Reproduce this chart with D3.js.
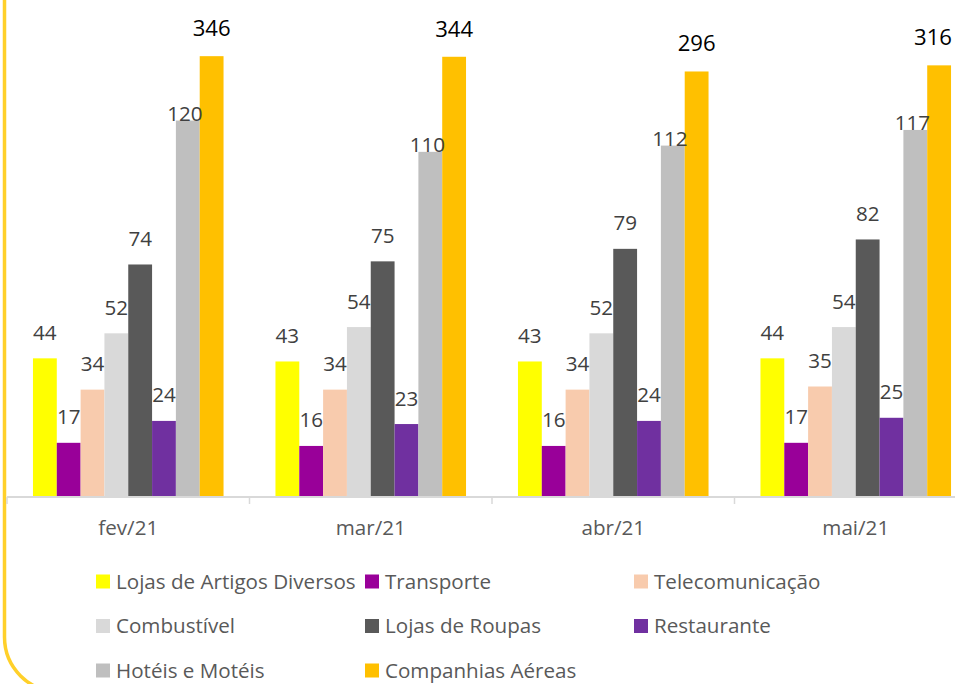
<!DOCTYPE html>
<html>
<head>
<meta charset="utf-8">
<script src="https://cdn.jsdelivr.net/npm/d3@7"></script>
<style>
  body { margin: 0; background: #fff; }
  #chart text { font-family: "Open Sans", "Noto Sans", sans-serif; }
</style>
</head>
<body>
<div id="chart"></div>
<script>
// categories (months) and series
var months = ['fev/21', 'mar/21', 'abr/21', 'mai/21'];
var series = ['Lojas de Artigos Diversos', 'Transporte', 'Telecomunicação',
  'Combustível', 'Lojas de Roupas', 'Restaurante', 'Hotéis e Motéis', 'Companhias Aéreas'];
var colors = ['#FFFF00', '#990099', '#F8CBAD', '#D9D9D9', '#595959', '#7030A0', '#BFBFBF', '#FFC000'];

var lojasDiversos = [44, 43, 43, 44];
var transporte = [17, 16, 16, 17];
var telecom = [34, 34, 34, 35];
var combustivel = [52, 54, 52, 54];
var lojasRoupas = [74, 75, 79, 82];
var restaurante = [24, 23, 24, 25];
var hoteis = [120, 110, 112, 117];
var aereas = [346, 344, 296, 316];   // plotted on the secondary axis

var yTicks = [0, 140];            // primary axis range (hidden)
var y2Domain = [-1090, 340];      // secondary axis range (hidden)

var values = [lojasDiversos, transporte, telecom, combustivel, lojasRoupas, restaurante, hoteis, aereas];

var W = 955, H = 684;
var fs = 20.6;   // base font size

var svg = d3.select('#chart').append('svg')
    .attr('width', W)
    .attr('height', H);

// yellow frame, only the left side and bottom corner are visible
svg.append('rect')
    .attr('x', 4.5).attr('y', -100)
    .attr('width', 2000).attr('height', 792)
    .attr('rx', 55).attr('ry', 55)
    .style('fill', 'none')
    .style('stroke', '#FFD02A')
    .style('stroke-width', 3.5);

var x0 = d3.scaleBand().domain(months).range([7, 977]);
var x1 = d3.scaleBand().domain(series).range([0, x0.bandwidth()])
    .paddingInner(0).paddingOuter(1.09);

var y = d3.scaleLinear().domain(yTicks).range([496, 58]);
var y2 = d3.scaleLinear().domain(y2Domain).range([496, 58]);

var data = [];
series.forEach(function(s, si){
  months.forEach(function(m, mi){
    data.push({ s: s, si: si, m: m, v: values[si][mi] });
  });
});

function yOf(d){ return d.si == 7 ? y2(d.v) : y(d.v); }

svg.selectAll('rect.bar')
    .data(data)
  .enter().append('rect')
    .attr('class', 'bar')
    .attr('x', function(d){ return x0(d.m) + x1(d.s); })
    .attr('width', x1.bandwidth())
    .attr('y', yOf)
    .attr('height', function(d){ return 496 - yOf(d); })
    .style('fill', function(d){ return colors[d.si]; });

// value labels
svg.selectAll('text.lbl')
    .data(data)
  .enter().append('text')
    .attr('class', 'lbl')
    .attr('x', function(d){ return x0(d.m) + x1(d.s) + x1.bandwidth()/2 + (d.si == 6 ? -3 : 0); })
    .attr('y', function(d){
      if(d.si == 6) return yOf(d);
      if(d.si == 7) return yOf(d) - 20;
      return yOf(d) - 18.5;
    })
    .style('text-anchor', 'middle')
    .style('font-size', function(d){ return d.si == 7 ? (fs + 1.5) + 'px' : fs + 'px'; })
    .style('fill', function(d){ return d.si == 7 ? '#000' : '#404040'; })
    .text(function(d){ return d.v; })
    .each(function(){
      // keep labels inside the picture
      var bb = this.getBBox();
      if(bb.x + bb.width > W - 3){
        d3.select(this).attr('x', +d3.select(this).attr('x') - (bb.x + bb.width - W + 3));
      }
    });

// x axis
var xAxis = svg.append('g').attr('class', 'x axis');
xAxis.append('line')
    .attr('x1', 7).attr('x2', W)
    .attr('y1', 497).attr('y2', 497)
    .style('stroke', '#D9D9D9').style('stroke-width', 2);
xAxis.selectAll('line.tick')
    .data(months)
  .enter().append('line')
    .attr('class', 'tick')
    .attr('x1', function(m){ return x0(m); }).attr('x2', function(m){ return x0(m); })
    .attr('y1', 497).attr('y2', 504)
    .style('stroke', '#D9D9D9').style('stroke-width', 1.5);
xAxis.selectAll('text')
    .data(months)
  .enter().append('text')
    .attr('x', function(m){ return x0(m) + x0.bandwidth()/2; })
    .attr('y', 535)
    .style('text-anchor', 'middle')
    .style('font-size', fs + 'px')
    .style('fill', '#595959')
    .text(function(m){ return m; });

// legend, 3 columns
var legX = [96, 365, 634], legY = [581.5, 626, 670.5];
var leg = svg.selectAll('g.leg')
    .data(series)
  .enter().append('g')
    .attr('class', 'leg')
    .attr('transform', function(d, i){
      return 'translate(' + legX[i % 3] + ',' + legY[Math.floor(i / 3)] + ')';
    });
leg.append('rect')
    .attr('x', 0).attr('y', -7)
    .attr('width', 14).attr('height', 14)
    .style('fill', function(d, i){ return colors[i]; });
leg.append('text')
    .attr('x', 20).attr('y', 0)
    .attr('dy', '0.35em')
    .style('font-size', fs + 'px')
    .style('fill', '#595959')
    .text(function(d){ return d; });
</script>
</body>
</html>
